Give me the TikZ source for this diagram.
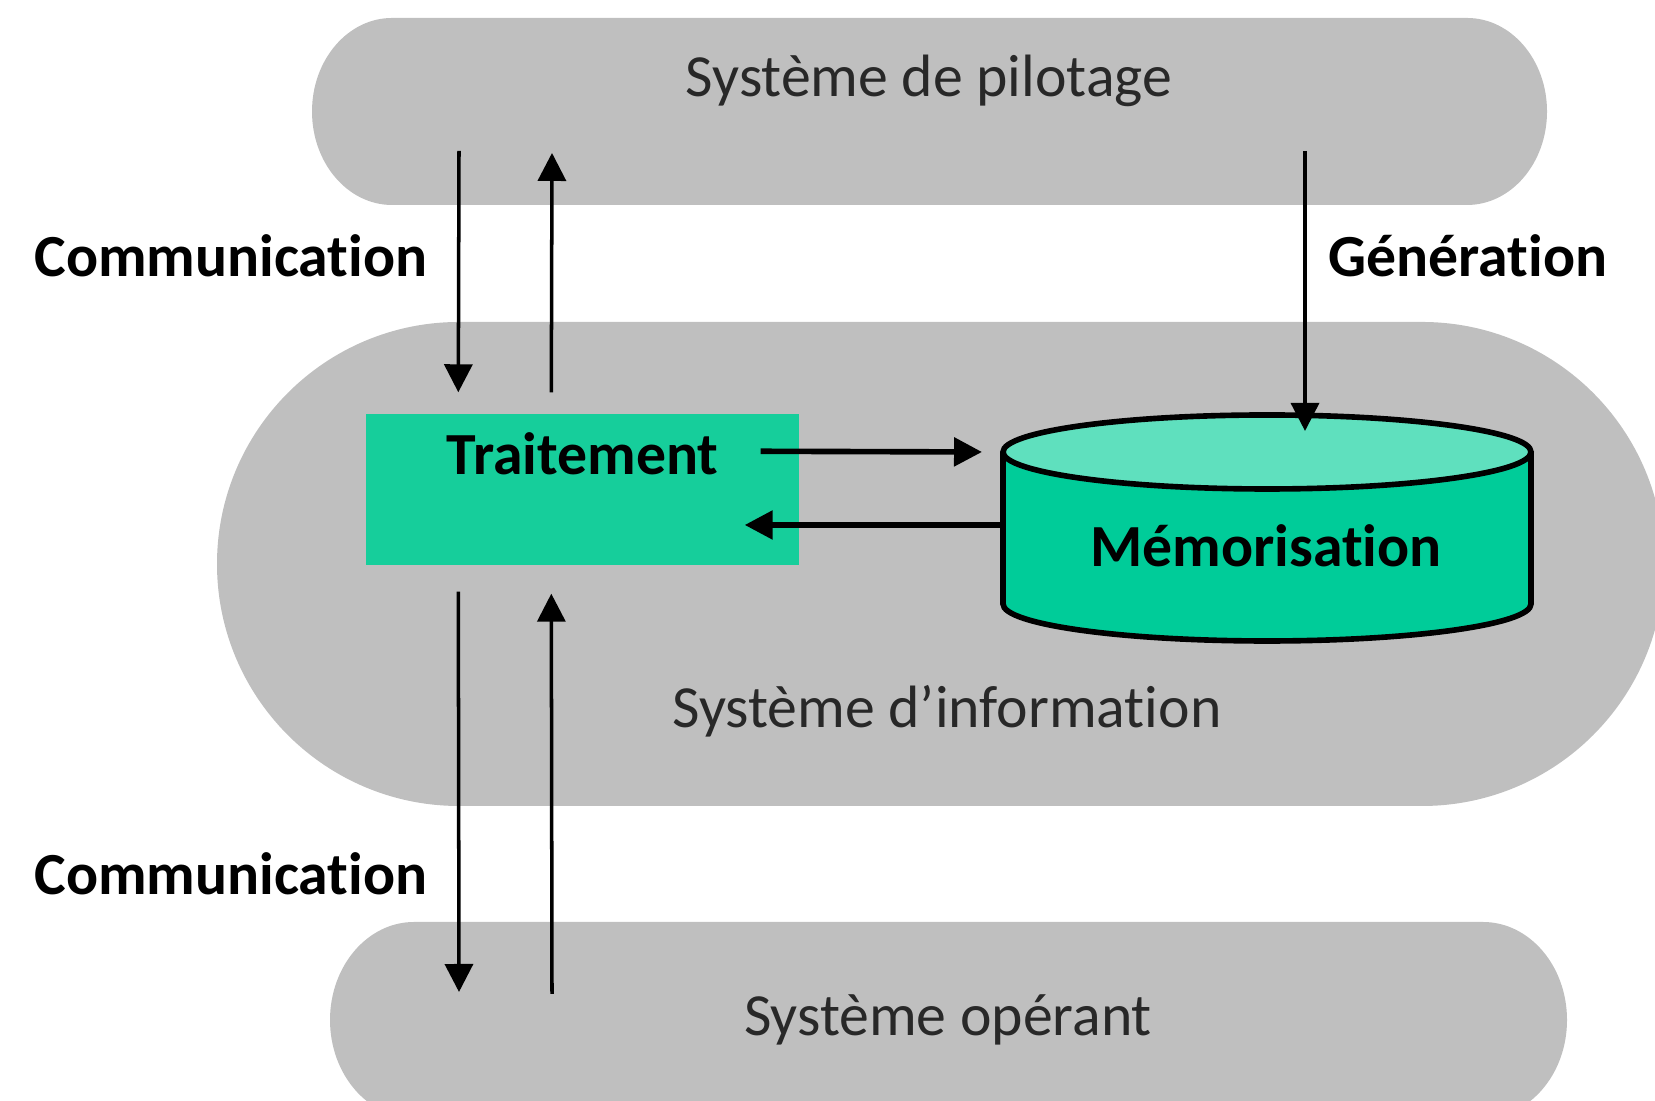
\documentclass[tikz,border=0pt]{standalone}
\usepackage{fontspec}
\setmainfont{Carlito}[Ligatures=NoCommon]
\usetikzlibrary{arrows.meta, positioning, calc}

\definecolor{bargray}{RGB}{191,191,191}
\definecolor{tealbox}{RGB}{22,206,155}
\definecolor{tealside}{RGB}{0,204,153}
\definecolor{tealtop}{RGB}{95,224,190}
\definecolor{bartext}{RGB}{40,40,40}

\begin{document}
\begin{tikzpicture}[
  bar/.style = {fill=bargray},
  bartitle/.style = {anchor=base, text=bartext, font=\fontsize{17}{20}\selectfont},
  flowlabel/.style = {anchor=base, font=\fontsize{17}{20}\selectfont\bfseries},
  traitbox/.style = {rectangle, fill=tealbox, minimum width=4.33cm, minimum height=1.51cm,
                     text height=0.4cm, text depth=0.69cm, font=\fontsize{17}{20}\selectfont\bfseries},
  cylline/.style = {line width=1.6pt},
  arrow/.style = {line width=1pt, -{Triangle[length=2.8mm, width=2.8mm]}},
  thickarrow/.style = {line width=1.6pt, -{Triangle[length=2.8mm, width=2.8mm]}}
]
\clip (0,0) rectangle (16.55,11.01);

%--------------------------------------------------
% Systems (grey bars)
%--------------------------------------------------
\fill[bar] (3.92,10.83) -- (14.67,10.83) arc[start angle=90, end angle=-90, x radius=0.8, y radius=0.935]
  -- (3.92,8.96) arc[start angle=270, end angle=90, x radius=0.8, y radius=0.935] -- cycle;
\fill[bar] (4.59,7.79) -- (14.22,7.79) arc[start angle=90, end angle=-90, radius=2.42]
  -- (4.59,2.95) arc[start angle=270, end angle=90, radius=2.42] -- cycle;
\fill[bar] (4.14,1.79) -- (14.83,1.79) arc[start angle=90, end angle=-90, x radius=0.84, y radius=0.98]
  -- (4.14,-0.17) arc[start angle=270, end angle=90, x radius=0.84, y radius=0.98] -- cycle;

\node[bartitle] (pil) at (9.29,10.04) {Système de pilotage};
\node[bartitle] (info) at (9.47,3.73) {Système d’information};
\node[bartitle] (oper) at (9.48,0.65) {Système opérant};

%--------------------------------------------------
% Traitement and Memorisation
%--------------------------------------------------
\node[traitbox] (trait) at (5.825,6.115) {Traitement};

\coordinate (cyltop) at (12.67,6.49);
\coordinate (cylbot) at (12.67,4.97);
\filldraw[cylline, fill=tealside] ($(cyltop)+(-2.64,0)$) -- ($(cylbot)+(-2.64,0)$)
  arc[start angle=180, end angle=360, x radius=2.64, y radius=0.37] -- ($(cyltop)+(2.64,0)$);
\filldraw[cylline, fill=tealtop] (cyltop) ellipse[x radius=2.64, y radius=0.37];
\node[flowlabel] (mem) at (12.66,5.34) {Mémorisation};

%--------------------------------------------------
% Labels
%--------------------------------------------------
\node[flowlabel] (comhaut) at (2.31,8.24) {Communication};
\node[flowlabel] (gen) at (14.68,8.24) {Génération};
\node[flowlabel] (combas) at (2.31,2.06) {Communication};

% free ends inside the bars
\coordinate (pilA) at (4.59,9.50);
\coordinate (pilB) at (5.52,9.48);
\coordinate (pilC) at (13.05,9.50);
\coordinate (opA) at (4.59,1.09);
\coordinate (opB) at (5.52,1.07);

%--------------------------------------------------
% Connections
%--------------------------------------------------
\draw[arrow] (pilA) -- ($(trait.north west)+(0.93,0.21)$);
\draw[arrow] ($(trait.north west)+(1.86,0.21)$) -- (pilB);
\draw[arrow] (pilC) -- ($(cyltop)+(0.38,0.21)$);

\draw[thickarrow] ($(trait.north east)+(-0.39,-0.38)$) -- ($(cyltop)+(-2.85,0)$);
\draw[thickarrow] ($(cylbot)+(-2.64,0.79)$) -- ($(trait.east)+(-0.55,-0.355)$);

\draw[arrow] ($(trait.south west)+(0.93,-0.26)$) -- (opA);
\draw[arrow] (opB) -- ($(trait.south west)+(1.86,-0.28)$);

\end{tikzpicture}
\end{document}
